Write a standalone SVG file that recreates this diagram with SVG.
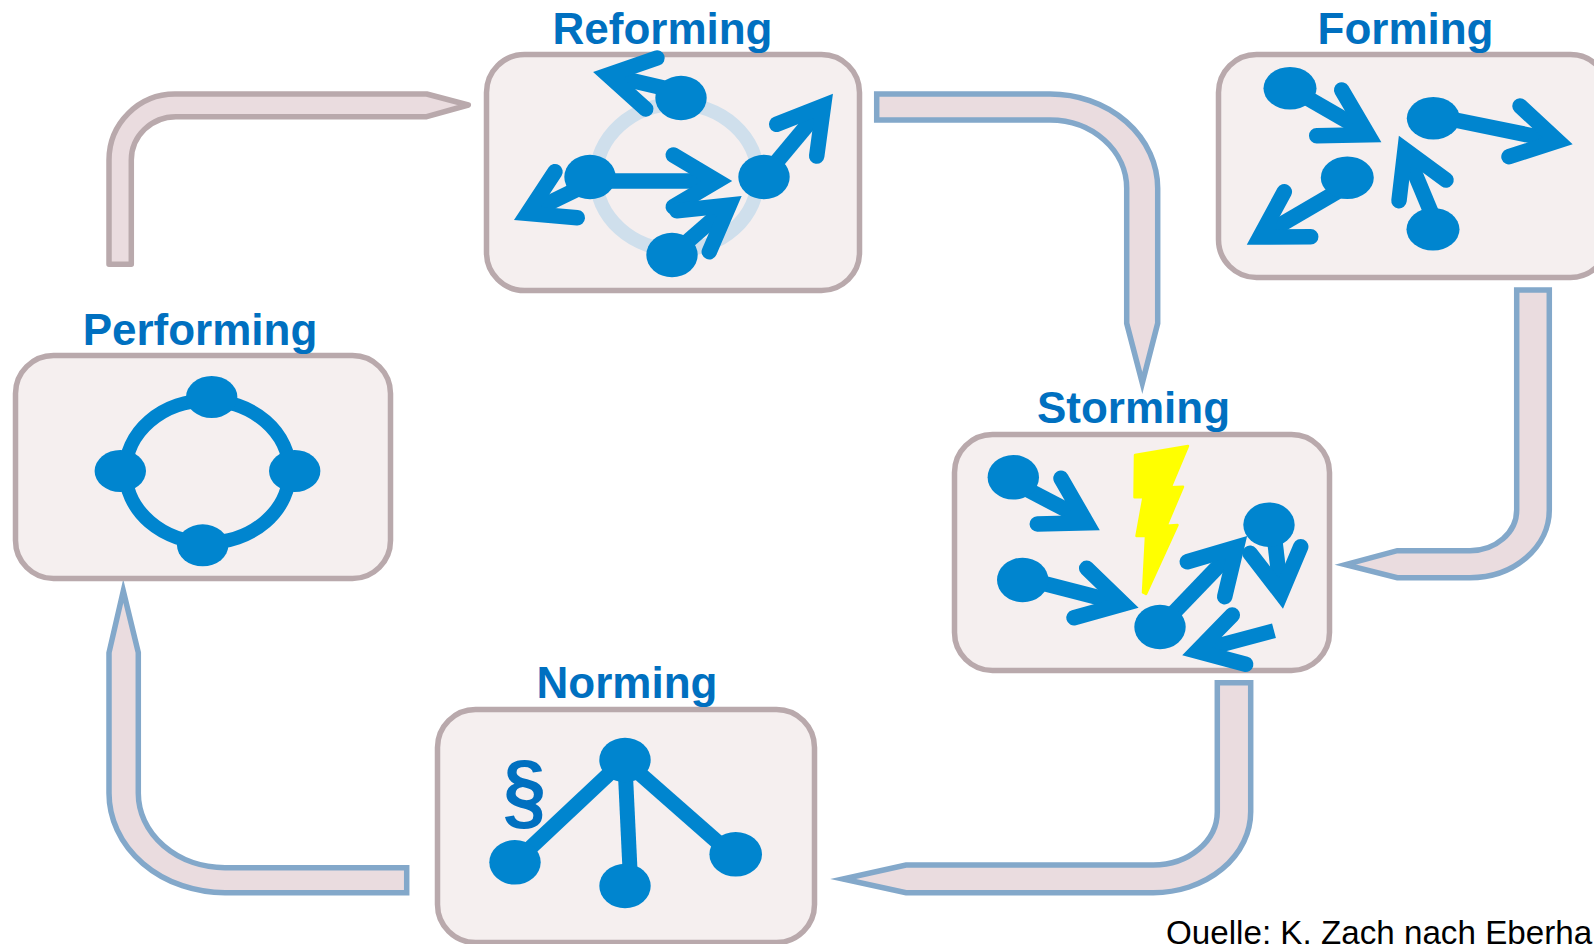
<svg xmlns="http://www.w3.org/2000/svg" width="1594" height="944" viewBox="0 0 1594 944">
<style>
.box{fill:#f5efef;stroke:#b9a9ac;stroke-width:5.5}
.title{font-family:"Liberation Sans",Arial,sans-serif;font-weight:700;font-size:44px;fill:#0070c0;text-anchor:middle}
.dot{fill:#0085cf}
.shaft{fill:none;stroke:#0085cf;stroke-width:15.5}
.head{fill:none;stroke:#0085cf;stroke-width:15.5;stroke-linecap:round;stroke-linejoin:miter;stroke-miterlimit:12}
.link{fill:none;stroke:#0085cf;stroke-width:15}
.blue{fill:#eadcdf;stroke:#83a8ca;stroke-width:5.5;stroke-linejoin:miter;stroke-miterlimit:12}
.grey{fill:#eadcdf;stroke:#b9a9ac;stroke-width:5.5;stroke-linejoin:round}
</style>
<rect width="1594" height="944" fill="#ffffff"/>
<g id="connectors">
<path class="grey" d="M109 264.3V160A66 66 0 0 1 175 94H426.7L468.3 105L426.7 116.7H176A44.7 43.3 0 0 0 131.3 160V264.3Z"/>
<path class="blue" d="M876.7 94H1050A107.7 94.3 0 0 1 1157.7 188.3V323.3L1142.3 383L1126.7 323.3V188.3A76.7 68.3 0 0 0 1050 120H876.7Z"/>
<path class="blue" d="M1516.7 290H1549.3V510A79.3 67.7 0 0 1 1470 577.7H1397.3L1345.5 564.7L1397.3 550.7H1470A46.7 40.7 0 0 0 1516.7 510Z"/>
<path class="blue" d="M1217.3 682.7H1250.7V811.7A97.4 81 0 0 1 1153.3 892.7H906L843 879L906 865H1153.3A64 53.3 0 0 0 1217.3 811.7Z"/>
<path class="blue" d="M123.3 591L138.3 652.7V793.3A86.7 74.4 0 0 0 225 867.7H406.7V892.7H225A116 99.4 0 0 1 109 793.3V652.7Z"/>
</g>
<g id="reforming">
<rect class="box" x="486.5" y="54.5" width="373" height="236" rx="38"/>
<ellipse cx="677" cy="177" rx="81" ry="73" fill="none" stroke="#cfdfec" stroke-width="14"/>
<text class="title" x="662.5" y="44">Reforming</text>
<path class="shaft" d="M681 92L608 75"/><polyline class="head" points="657,58 608,75 645.7,109"/>
<path class="shaft" d="M764 177L823.5 105.8"/><polyline class="head" points="776.7,124.3 823.5,105.8 816.7,156"/>
<path class="shaft" d="M590 181H717"/><polyline class="head" points="673.3,155 717,181 673.3,206.7"/>
<path class="shaft" d="M590 183L527.6 213.4"/><polyline class="head" points="555,171.7 527.6,213.4 577.3,217.7"/>
<path class="shaft" d="M672 255L729.3 205.2"/><polyline class="head" points="676.7,210.7 729.3,205.2 709.3,251.7"/>
<ellipse class="dot" cx="681" cy="98" rx="25.7" ry="22.3"/>
<ellipse class="dot" cx="590" cy="177" rx="25.7" ry="22.3"/>
<ellipse class="dot" cx="764" cy="177" rx="25.7" ry="22.3"/>
<ellipse class="dot" cx="672" cy="255" rx="25.7" ry="22.3"/>
</g>
<g id="forming">
<rect class="box" x="1218.5" y="54.5" width="390" height="223" rx="38"/>
<text class="title" x="1405.5" y="44">Forming</text>
<path class="shaft" d="M1290 88L1368 133"/><polyline class="head" points="1341.7,90 1368,134.8 1316.7,135.7"/>
<path class="shaft" d="M1433 115.5L1557.7 141"/><polyline class="head" points="1520,106 1557.7,141 1509,156.7"/>
<path class="shaft" d="M1347 186L1259.8 237"/><polyline class="head" points="1284.3,191.7 1259.8,237 1310.7,236.7"/>
<path class="shaft" d="M1438 229L1405 149.8"/><polyline class="head" points="1399,200.7 1405,149.8 1446,180"/>
<ellipse class="dot" cx="1290" cy="88.3" rx="26.5" ry="21.3"/>
<ellipse class="dot" cx="1433.3" cy="118.3" rx="26.5" ry="21.3"/>
<ellipse class="dot" cx="1347.3" cy="177.7" rx="26.5" ry="21.3"/>
<ellipse class="dot" cx="1433" cy="229.3" rx="26.5" ry="21.3"/>
</g>
<g id="storming">
<rect class="box" x="954.5" y="434.5" width="375" height="236" rx="38"/>
<text class="title" x="1133.5" y="423">Storming</text>
<polygon points="1135,455 1188,446 1170.7,487.3 1183,486.7 1166.5,525.7 1177.5,525 1146,594 1143,592.5 1146,536 1136.5,536 1143.5,497.3 1134.5,497.3" fill="#ffff00" stroke="#ffff00" stroke-width="2.5" stroke-linejoin="round"/>
<path class="shaft" d="M1013 482L1086.6 520.5"/><polyline class="head" points="1061,478.3 1086.6,522.8 1037.3,524"/>
<path class="shaft" d="M1022.7 578L1123.5 604"/><polyline class="head" points="1086.7,568.3 1123.5,604 1074,617.7"/>
<path class="shaft" d="M1160 627L1236.5 547.3"/><polyline class="head" points="1187.3,561.7 1236.5,547.3 1224.7,596.7"/>
<path class="shaft" d="M1273 525L1281 593.4"/><polyline class="head" points="1250,553.3 1281,593.4 1300.7,546.7"/>
<path class="link" d="M1197 651.2L1274 630.7"/><polyline class="head" points="1232.3,615 1197,651.2 1245.7,664.3"/>
<ellipse class="dot" cx="1013.3" cy="477.3" rx="25.7" ry="22.3"/>
<ellipse class="dot" cx="1022.7" cy="580" rx="25.7" ry="22.3"/>
<ellipse class="dot" cx="1160" cy="627" rx="25.7" ry="22.3"/>
<ellipse class="dot" cx="1269" cy="524.7" rx="25.7" ry="22.3"/>
</g>
<g id="norming">
<rect class="box" x="437.5" y="709.5" width="377" height="233" rx="38"/>
<text class="title" x="627" y="698">Norming</text>
<text transform="translate(524.5 819) scale(.9 1)" font-family="'Liberation Sans',Arial,sans-serif" font-weight="700" font-size="86" fill="#0070c0" text-anchor="middle">§</text>
<path class="link" d="M515 862.3L610 773"/>
<path class="link" d="M625 765L630 870"/>
<path class="link" d="M630 765L735.7 858"/>
<ellipse class="dot" cx="625" cy="760" rx="25.7" ry="22.3"/>
<ellipse class="dot" cx="515" cy="862.3" rx="25.7" ry="22.3"/>
<ellipse class="dot" cx="625" cy="886" rx="25.7" ry="22.3"/>
<ellipse class="dot" cx="735.7" cy="854.3" rx="26.3" ry="22.3"/>
</g>
<g id="performing">
<rect class="box" x="15.5" y="355.5" width="375" height="223" rx="38"/>
<text class="title" x="200" y="345">Performing</text>
<ellipse cx="207.5" cy="471.5" rx="82" ry="71" fill="none" stroke="#0085cf" stroke-width="14"/>
<ellipse class="dot" cx="211.7" cy="397" rx="25.7" ry="21"/>
<ellipse class="dot" cx="120.3" cy="471" rx="25.7" ry="21"/>
<ellipse class="dot" cx="294.7" cy="471" rx="25.7" ry="21"/>
<ellipse class="dot" cx="202.7" cy="545.3" rx="25.7" ry="21"/>
</g>
<text x="1166" y="944" font-family="'Liberation Sans',Arial,sans-serif" font-size="33.2" fill="#000000">Quelle: K. Zach nach Eberha</text>
</svg>
